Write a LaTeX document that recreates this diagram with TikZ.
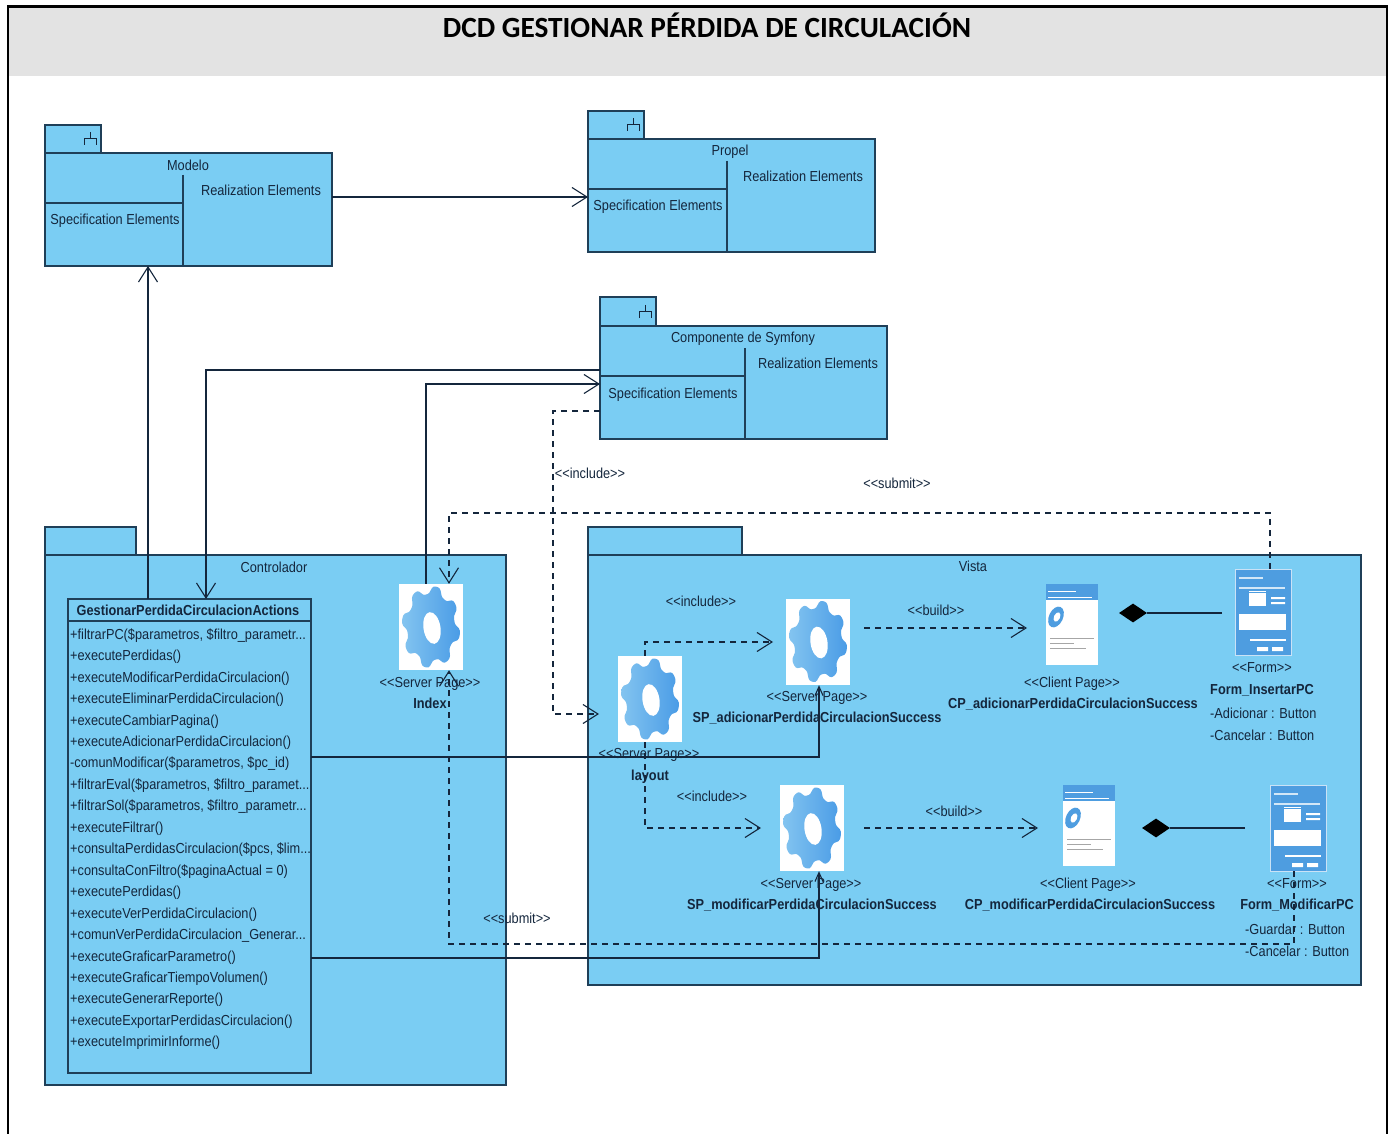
\documentclass[tikz,border=0pt]{standalone}
\usepackage{fontspec}
\setmainfont{Liberation Sans}[FakeStretch=0.88]
\newfontfamily\titlefont{Carlito}
\usetikzlibrary{arrows.meta,shapes.geometric}
\definecolor{pkgblue}{HTML}{7ACDF3}
\definecolor{pkgline}{HTML}{1F3F58}
\definecolor{inktext}{HTML}{14263C}
\definecolor{headgray}{HTML}{E3E3E3}
\definecolor{geardark}{HTML}{4A9CE6}
\definecolor{gearlight}{HTML}{83C4F0}
\definecolor{iconblue}{HTML}{4E9DE0}
\newcommand{\stereo}[1]{<\kern0pt<#1>\kern0pt>}
\tikzset{
  x=1pt,y=-1pt,
  pkg/.style={draw=pkgline,fill=pkgblue,line width=1.2pt,anchor=north west,inner sep=0pt,outer sep=0pt},
  divider/.style={draw=pkgline,line width=1.2pt},
  lbl/.style={font=\fontsize{14.5}{16}\selectfont,text=inktext,inner sep=0pt,text height=11.5pt,text depth=0pt},
  bold/.style={font=\fontsize{14.5}{16}\selectfont\bfseries,text=inktext,inner sep=0pt,text height=11.5pt,text depth=0pt},
  oplabel/.style={lbl,anchor=west},
  conn/.style={draw=inktext,line width=1.2pt},
  dep/.style={draw=inktext,line width=1.2pt,dash pattern=on 6pt off 5pt},
  openarrow/.style={-{Straight Barb[length=15pt,width=19pt,line width=1.1pt]}},
  tinyarrow/.style={-{Straight Barb[length=9pt,width=8pt,line width=1.1pt]}},
  gearicon/.pic={
    \fill[white] (-32,-43) rectangle (32,43);
    \begin{scope}[yscale=1.4]
      \path[left color=gearlight,right color=geardark]
        plot[domain=0:357,samples=120,smooth] (\x+11:{26.5+3*tanh(1.6*cos(8*\x))}) -- cycle;
    \end{scope}
    \fill[white] (1,1) ellipse[x radius=8.5pt,y radius=16pt,rotate=9];
  },
  clienticon/.pic={
    \fill[white] (-26,-40) rectangle (26,41);
    \fill[iconblue] (-26,-40) rectangle (26,-24);
    \fill[white] (-24,-33) rectangle (4,-32);
    \draw[white,line width=.8pt] (-24,-27) -- (20,-27);
    \fill[iconblue] (-16,-7) ellipse[x radius=7pt,y radius=11pt,rotate=-25];
    \fill[white] (-15,-7) ellipse[x radius=3pt,y radius=5pt,rotate=-25];
    \draw[gray!70,line width=.8pt] (-22,14) -- (22,14) (-22,19) -- (2,19) (-22,24) -- (14,24);
  },
  formicon/.pic={
    \fill[iconblue] (-28,-43) rectangle (28,43);
    \draw[white!70!iconblue,line width=1pt] (-28,-43) rectangle (28,43);
    \draw[white!75!iconblue,line width=1.3pt] (-24,-34) -- (0,-34) (-24,-24) -- (22,-24);
    \fill[white] (-14,-19) rectangle (3,-6);
    \draw[white,line width=.9pt] (-14,-21) -- (3,-21);
    \fill[white] (8,-15) rectangle (22,-13) (8,-10) rectangle (22,-8);
    \fill[white] (-24,2) rectangle (23,18);
    \draw[white,line width=1.2pt] (-13,28) -- (23,28);
    \fill[white] (-6,35) rectangle (5,39) (9,35) rectangle (20,39);
  },
}
\newcommand{\forkmark}[2]{%
  \draw[inktext,line width=.9pt] (#1,#2) -- (#1,#2+6) (#1-6,#2+13) -- (#1-6,#2+6) -- (#1+6,#2+6) -- (#1+6,#2+13);}
\newcommand{\oper}[2]{\node[oplabel] (op#1) at (70,{633.5+21.45*(#1-1)}) {#2};}
\begin{document}
\begin{tikzpicture}
\useasboundingbox (0,0) rectangle (1393,1134);
% page frame
\fill[headgray] (8,6) rectangle (1387,76);
\draw[black,line width=2.4pt] (8,1136) -- (8,6.5) -- (1387,6.5) -- (1387,1136);
\node[font=\titlefont\fontsize{29.3}{32}\selectfont\bfseries,text=black,inner sep=0pt] (title) at (707,25) {DCD GESTIONAR PÉRDIDA DE CIRCULACIÓN};

% Modelo
\node[pkg,minimum width=56pt,minimum height=28pt] (modelotab) at (45,125) {};
\forkmark{90}{132}
\node[pkg,minimum width=287pt,minimum height=113pt] (modelo) at (45,153) {};
\draw[divider] (183,175) -- (183,266) (45,203) -- (183,203);
\node[lbl] (modelon) at (188,165) {Modelo};
\node[lbl] (modelor) at (261,190) {Realization Elements};
\node[lbl] (modelos) at (115,219) {Specification Elements};

% Propel
\node[pkg,minimum width=56pt,minimum height=28pt] (propeltab) at (588,111) {};
\forkmark{633}{118}
\node[pkg,minimum width=287pt,minimum height=113pt] (propel) at (588,139) {};
\draw[divider] (727,161) -- (727,252) (588,189) -- (727,189);
\node[lbl] (propeln) at (730,150) {Propel};
\node[lbl] (propelr) at (803,176) {Realization Elements};
\node[lbl] (propels) at (658,205) {Specification Elements};

% Componente de Symfony
\node[pkg,minimum width=56pt,minimum height=29pt] (symtab) at (600,297) {};
\forkmark{645}{305}
\node[pkg,minimum width=287pt,minimum height=113pt] (sym) at (600,326) {};
\draw[divider] (745,348) -- (745,439) (600,376) -- (745,376);
\node[lbl] (symn) at (743,337) {Componente de Symfony};
\node[lbl] (symr) at (818,363) {Realization Elements};
\node[lbl] (syms) at (673,393) {Specification Elements};

% Controlador
\node[pkg,minimum width=91pt,minimum height=28pt] (ctrltab) at (45,527) {};
\node[pkg,minimum width=461pt,minimum height=530pt] (ctrl) at (45,555) {};
\node[lbl] (ctrln) at (274,567) {Controlador};

% Vista
\node[pkg,minimum width=154pt,minimum height=28pt] (vistatab) at (588,527) {};
\node[pkg,minimum width=773pt,minimum height=430pt] (vista) at (588,555) {};
\node[lbl] (vistan) at (973,566) {Vista};

% class
\node[pkg,minimum width=243pt,minimum height=474pt] (cls) at (68,599) {};
\draw[divider] (68,621) -- (311,621);
\node[bold] (clsn) at (188,610) {GestionarPerdidaCirculacionActions};
\oper{1}{+filtrarPC(\$parametros, \$filtro\_parametr...}
\oper{2}{+executePerdidas()}
\oper{3}{+executeModificarPerdidaCirculacion()}
\oper{4}{+executeEliminarPerdidaCirculacion()}
\oper{5}{+executeCambiarPagina()}
\oper{6}{+executeAdicionarPerdidaCirculacion()}
\oper{7}{-comunModificar(\$parametros, \$pc\_id)}
\oper{8}{+filtrarEval(\$parametros, \$filtro\_paramet...}
\oper{9}{+filtrarSol(\$parametros, \$filtro\_parametr...}
\oper{10}{+executeFiltrar()}
\oper{11}{+consultaPerdidasCirculacion(\$pcs, \$lim...}
\oper{12}{+consultaConFiltro(\$paginaActual = 0)}
\oper{13}{+executePerdidas()}
\oper{14}{+executeVerPerdidaCirculacion()}
\oper{15}{+comunVerPerdidaCirculacion\_Generar...}
\oper{16}{+executeGraficarParametro()}
\oper{17}{+executeGraficarTiempoVolumen()}
\oper{18}{+executeGenerarReporte()}
\oper{19}{+executeExportarPerdidasCirculacion()}
\oper{20}{+executeImprimirInforme()}

% icons
\pic at (431,627) {gearicon};
\node[minimum width=64pt,minimum height=86pt,inner sep=0pt] (index) at (431,627) {};
\pic at (818,641.5) {gearicon};
\node[minimum width=64pt,minimum height=87pt,inner sep=0pt] (spad) at (818,641.5) {};
\pic at (650,699) {gearicon};
\node[minimum width=64pt,minimum height=86pt,inner sep=0pt] (layout) at (650,699) {};
\pic at (812,828) {gearicon};
\node[minimum width=64pt,minimum height=86pt,inner sep=0pt] (spmod) at (812,828) {};
\pic at (1072,624) {clienticon};
\node[minimum width=52pt,minimum height=81pt,inner sep=0pt] (cpad) at (1072,624) {};
\pic at (1089,825) {clienticon};
\node[minimum width=52pt,minimum height=81pt,inner sep=0pt] (cpmod) at (1089,825) {};
\pic at (1263,612) {formicon};
\node[minimum width=56pt,minimum height=86pt,inner sep=0pt] (formins) at (1263,612) {};
\pic at (1298,828) {formicon};
\node[minimum width=56pt,minimum height=86pt,inner sep=0pt] (formmod) at (1298,828) {};

% element labels
\node[lbl] (indexs) at (430,682) {\stereo{Server Page}};
\node[bold] (indexn) at (430,703) {Index};
\node[lbl] (spads) at (817,696) {\stereo{Server Page}};
\node[bold] (spadn) at (817,717) {SP\_adicionarPerdidaCirculacionSuccess};
\node[lbl] (layouts) at (649,753) {\stereo{Server Page}};
\node[bold] (layoutn) at (650,775) {layout};
\node[lbl] (spmods) at (811,883) {\stereo{Server Page}};
\node[bold] (spmodn) at (812,904) {SP\_modificarPerdidaCirculacionSuccess};
\node[lbl] (cpads) at (1072,682) {\stereo{Client Page}};
\node[bold] (cpadn) at (1073,703) {CP\_adicionarPerdidaCirculacionSuccess};
\node[lbl] (cpmods) at (1088,883) {\stereo{Client Page}};
\node[bold] (cpmodn) at (1090,904) {CP\_modificarPerdidaCirculacionSuccess};
\node[lbl] (forminss) at (1262,667) {\stereo{Form}};
\node[bold] (forminsn) at (1262,689) {Form\_InsertarPC};
\node[lbl,anchor=west] (forminsa) at (1210,713) {-Adicionar : Button};
\node[lbl,anchor=west] (forminsb) at (1210,735) {-Cancelar : Button};
\node[lbl] (formmods) at (1297,883) {\stereo{Form}};
\node[bold] (formmodn) at (1297,904) {Form\_ModificarPC};
\node[lbl,anchor=west] (formmoda) at (1245,929) {-Guardar : Button};
\node[lbl,anchor=west] (formmodb) at (1245,951) {-Cancelar : Button};

% connector labels
\node[lbl] (linc) at (590,473) {\stereo{include}};
\node[lbl] (lsub) at (897,483) {\stereo{submit}};
\node[lbl] (linca) at (701,601) {\stereo{include}};
\node[lbl] (lbuilda) at (936,610) {\stereo{build}};
\node[lbl] (lincb) at (712,796) {\stereo{include}};
\node[lbl] (lbuildb) at (954,811) {\stereo{build}};
\node[lbl] (lsubb) at (517,918) {\stereo{submit}};

% routing helpers
\coordinate (xclsup) at (148,0);
\coordinate (xsymdown) at (206,370);
\coordinate (ysymdown) at (600,370);
\coordinate (xidx) at (426,384);
\coordinate (yidx) at (600,384);
\coordinate (incstart) at (600,411);
\coordinate (incx) at (553,411);
\coordinate (incy) at (553,714);
\coordinate (incend) at (599,714);
\coordinate (subtopa) at (1270,513);
\coordinate (subtopb) at (449,513);
\coordinate (subbota) at (1294,944);
\coordinate (subbotb) at (449,944);
\coordinate (laya) at (645,642);
\coordinate (layaend) at (773,642);
\coordinate (layb) at (645,828);
\coordinate (laybend) at (761,828);
\coordinate (builda) at (864,628);
\coordinate (buildaend) at (1027,628);
\coordinate (buildb) at (864,828);
\coordinate (buildbend) at (1038,828);
\coordinate (clsa) at (311,757);
\coordinate (clsaturn) at (819,757);
\coordinate (clsb) at (311,958);
\coordinate (clsbturn) at (819,958);
\coordinate (moda) at (332,197);
\coordinate (modb) at (588,197);
\coordinate (diaa) at (1222,613);
\coordinate (diab) at (1245,828);

% composition diamonds
\node[diamond,aspect=1.5,fill=black,minimum width=28pt,minimum height=19pt,inner sep=0pt] (da) at (1133,613) {};
\node[diamond,aspect=1.5,fill=black,minimum width=28pt,minimum height=19pt,inner sep=0pt] (db) at (1156,828) {};
\draw[conn] (diaa) -- (da.east);
\draw[conn] (diab) -- (db.east);

% connectors
\draw[conn,openarrow] (moda) -- (modb);
\draw[conn,openarrow] (xclsup |- cls.north) -- (xclsup |- modelo.south);
\draw[conn,openarrow] (ysymdown) -- (xsymdown) -- (xsymdown |- cls.north);
\draw[conn,openarrow] (xidx |- index.north) -- (xidx) -- (yidx);
\draw[dep,openarrow] (incstart) -- (incx) -- (incy) -- (incend);
\draw[dep,openarrow] (subtopa |- formins.north) -- (subtopa) -- (subtopb) -- (subtopb |- index.north);
\draw[dep,openarrow] (subbota |- formmod.south) -- (subbota) -- (subbotb) -- (subbotb |- index.south);
\draw[dep,openarrow] (laya |- layout.north) -- (laya) -- (layaend);
\draw[dep,openarrow] (layb |- layout.south) -- (layb) -- (laybend);
\draw[dep,openarrow] (builda) -- (buildaend);
\draw[dep,openarrow] (buildb) -- (buildbend);
\draw[conn,tinyarrow] (clsa) -- (clsaturn) -- (clsaturn |- spad.south);
\draw[conn,tinyarrow] (clsb) -- (clsbturn) -- (clsbturn |- spmod.south);
\end{tikzpicture}
\end{document}
